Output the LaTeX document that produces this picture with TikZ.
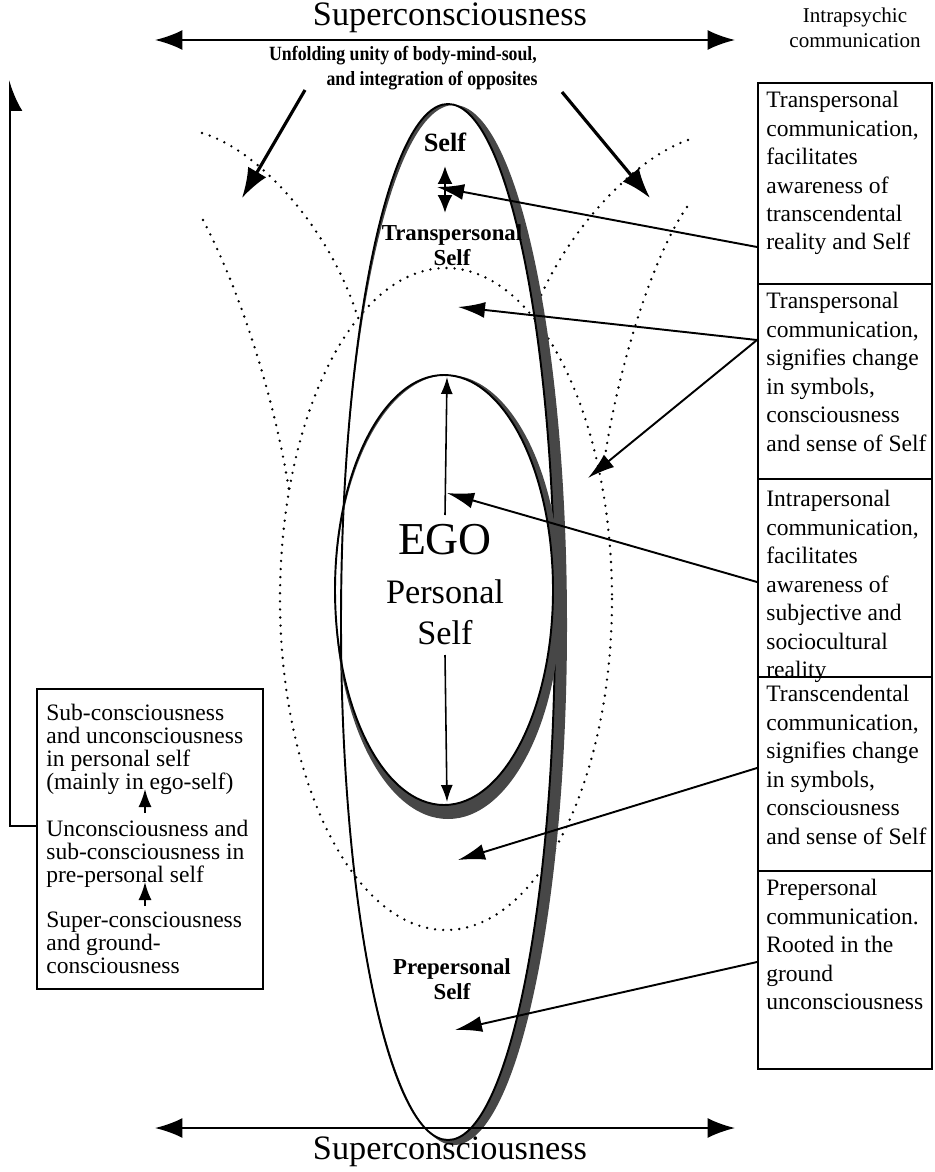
\documentclass[tikz,border=0pt]{standalone}
\usepackage{fontspec}
\setmainfont{Liberation Serif}
\newfontfamily\narrowserif[FakeStretch=0.88]{Liberation Serif}
\usetikzlibrary{arrows.meta}
\usetikzlibrary{calc}

\begin{document}
\begin{tikzpicture}[
  x=0.02cm, y=-0.02cm,
  every node/.style={align=center, inner sep=0pt},
  box/.style={draw, line width=1.1pt, anchor=north west, minimum width=3.48cm},
  boxtext/.style={anchor=north west, align=left, font=\fontsize{13.4}{16.2}\selectfont},
  lefttext/.style={anchor=north west, align=left, font=\fontsize{13.4}{13.1}\selectfont},
  big/.style={font=\fontsize{19.5}{24}\selectfont},
  wide/.style={{Latex[length=0.55cm,width=0.4cm]}-{Latex[length=0.55cm,width=0.4cm]}, line width=1.2pt},
  ptr/.style={-{Latex[length=0.54cm,width=0.32cm]}, line width=1.1pt},
  fatptr/.style={-{Latex[length=0.6cm,width=0.42cm]}, line width=1.8pt},
  smallptr/.style={-{Latex[length=0.34cm,width=0.24cm]}, line width=0.9pt},
  upptr/.style={-{Latex[length=0.36cm,width=0.26cm]}, line width=1pt},
  dotline/.style={line width=1.5pt, line cap=round, dash pattern=on 0pt off 4.6pt}
]
\useasboundingbox (0,0) rectangle (934,1172);

% dotted field
\draw[dotline] (446,599) ellipse [x radius=166, y radius=331];
\draw[dotline] (202,133) .. controls (260,150) and (330,230) .. (357,315);
\draw[dotline] (203,220) .. controls (240,290) and (275,400) .. (289,490);
\draw[dotline] (688,140) .. controls (630,160) and (560,240) .. (534,313);
\draw[dotline] (687,207) .. controls (650,260) and (615,380) .. (603,470);

% self ellipse with shaded rim
\fill[black!72, even odd rule] (454,625) ellipse [x radius=113, y radius=520]
  (448,622) ellipse [x radius=107, y radius=518];
\draw[line width=1.1pt] (448,622) ellipse [x radius=107, y radius=518];

% ego ellipse with shaded rim
\fill[black!72, even odd rule] (448,597) ellipse [x radius=113, y radius=222]
  (444,590) ellipse [x radius=109, y radius=215];
\draw[line width=1.1pt] (444,590) ellipse [x radius=109, y radius=215];

% top and bottom
\node[big, anchor=base] (topsc) at (450,26) {Superconsciousness};
\coordinate (tl) at (155,40);
\coordinate (tr) at (735,40);
\draw[wide] (tl) -- (tr);
\node[font=\narrowserif\bfseries\fontsize{11.5}{13}\selectfont] (unf1) at (403,56) {Unfolding unity of body-mind-soul,};
\node[font=\narrowserif\bfseries\fontsize{11.5}{13}\selectfont] (unf2) at (432,81) {and integration of opposites};
\coordinate (ul) at (305,90);
\coordinate (dl) at (242,198);
\coordinate (ur) at (562,92);
\coordinate (dr) at (650,198);
\draw[fatptr] (ul) -- (dl);
\draw[fatptr] (ur) -- (dr);

\coordinate (bl) at (155,1128);
\coordinate (br) at (735,1128);
\draw[wide] (bl) -- (br);
\node[big] (botsc) at (450,1152) {Superconsciousness};

% labels in the ellipses
\node[font=\bfseries\fontsize{15}{18}\selectfont] (self) at (445,142) {Self};
\node[font=\bfseries\fontsize{13}{14.5}\selectfont] (tps) at (452,245) {Transpersonal\\Self};
\node[font=\fontsize{26}{30}\selectfont] (ego) at (445,540) {EGO};
\node[font=\fontsize{19.5}{23.3}\selectfont] (pers) at (445,612) {Personal\\Self};
\node[font=\bfseries\fontsize{13}{14.5}\selectfont] (pps) at (452,979) {Prepersonal\\Self};

\coordinate (egotop) at (447,377);
\coordinate (egobot) at (447,802);
\draw[smallptr] (ego.north |- 0,515) -- (egotop);
\draw[smallptr] (pers.south |- 0,655) -- (egobot);
\draw[{Latex[length=0.36cm,width=0.3cm]}-{Latex[length=0.36cm,width=0.3cm]}, line width=1.2pt] (445,166) -- (445,213);

% right column
\node[font=\fontsize{12}{14.2}\selectfont] (intra) at (855,28) {Intrapsychic\\communication};

\node[boxtext] (t1) at (766,91) {Transpersonal\\communication,\\facilitates\\awareness of\\transcendental\\reality and Self};
\node[boxtext] (t2) at (766,292) {Transpersonal\\communication,\\signifies change\\in symbols,\\consciousness\\and sense of Self};
\node[boxtext] (t3) at (766,490) {Intrapersonal\\communication,\\facilitates\\awareness of\\subjective and\\sociocultural\\reality};
\node[boxtext] (t4) at (766,685) {Transcendental\\communication,\\signifies change\\in symbols,\\consciousness\\and sense of Self};
\node[boxtext] (t5) at (766,879) {Prepersonal\\communication.\\Rooted in the\\ground\\unconsciousness};

\node[box, minimum height=4.02cm] (b1) at (757,82) {};
\node[box, minimum height=3.9cm] (b2) at (757,283) {};
\node[box, minimum height=3.96cm] (b3) at (757,478) {};
\node[box, minimum height=3.88cm] (b4) at (757,676) {};
\node[box, minimum height=3.96cm] (b5) at (757,870) {};

\coordinate (toself) at (437,187);
\coordinate (totps) at (458,307);
\coordinate (tomid) at (588,478);
\coordinate (toego) at (447,493);
\coordinate (tolow) at (458,860);
\coordinate (topre) at (455,1030);
\draw[ptr] ($(b1.north west)+(0,165)$) -- (toself);
\draw[ptr] ($(b2.north west)+(0,57)$) -- (totps);
\draw[ptr] ($(b2.north west)+(0,57)$) -- (tomid);
\draw[ptr] ($(b3.north west)+(0,104)$) -- (toego);
\draw[ptr] ($(b4.north west)+(0,92)$) -- (tolow);
\draw[ptr] ($(b5.north west)+(0,92)$) -- (topre);

% left column
\node[box, minimum width=4.52cm, minimum height=6cm] (lb) at (36,688) {};
\node[lefttext] (l1) at (46,704) {Sub-consciousness\\and unconsciousness\\in personal self\\(mainly in ego-self)};
\node[lefttext] (l2) at (46,820) {Unconsciousness and\\sub-consciousness in\\pre-personal self};
\node[lefttext] (l3) at (46,912) {Super-consciousness\\and ground-\\consciousness};
\draw[upptr] (145,813) -- (145,789);
\draw[upptr] (145,906) -- (145,882);

\coordinate (ltop) at (10,80);
\coordinate (lbot) at (10,826);
\draw[-{Latex[length=0.56cm,width=0.5cm,right]}, line width=1pt] (lb.west |- lbot) -- (lbot) -- (ltop);
\end{tikzpicture}
\end{document}
